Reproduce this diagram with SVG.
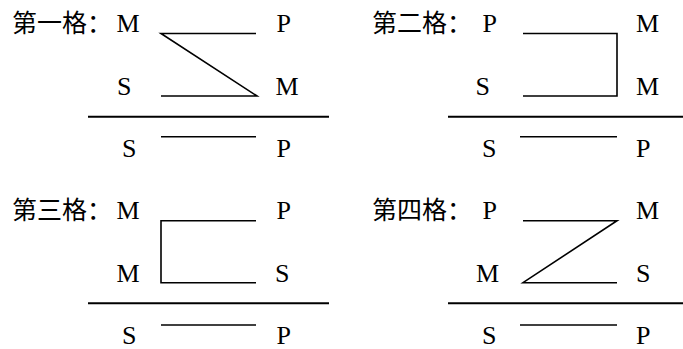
<svg xmlns="http://www.w3.org/2000/svg" width="683" height="349" viewBox="0 0 683 349">
<style>
.t{font-family:"Liberation Serif","Times New Roman",serif;font-size:26px;fill:#000}
.c{font-family:"Noto Sans CJK SC","Noto Sans CJK JP",sans-serif;font-size:25px;fill:#000}
.l{fill:none;stroke:#000;stroke-width:1.6}
.b{fill:none;stroke:#000;stroke-width:2}
</style>
<rect width="683" height="349" fill="#fff"/>
<g id="fig1">
<text class="c" x="12" y="32">第一格：</text>
<text class="t" x="116.5" y="32">M</text>
<text class="t" x="276.5" y="32">P</text>
<text class="t" x="117" y="94.5">S</text>
<text class="t" x="275.5" y="94.5">M</text>
<text class="t" x="122" y="157">S</text>
<text class="t" x="276.5" y="157">P</text>
</g>
<g id="fig2">
<text class="c" x="372" y="32">第二格：</text>
<text class="t" x="482.5" y="32">P</text>
<text class="t" x="636" y="32">M</text>
<text class="t" x="475.5" y="94.5">S</text>
<text class="t" x="636" y="94.5">M</text>
<text class="t" x="482" y="157">S</text>
<text class="t" x="636" y="157">P</text>
</g>
<g id="fig3">
<text class="c" x="12" y="218.5">第三格：</text>
<text class="t" x="116.5" y="218.5">M</text>
<text class="t" x="276.5" y="218.5">P</text>
<text class="t" x="116.5" y="281.5">M</text>
<text class="t" x="275" y="281.5">S</text>
<text class="t" x="122" y="343.5">S</text>
<text class="t" x="276.5" y="343.5">P</text>
</g>
<g id="fig4">
<text class="c" x="372" y="218.5">第四格：</text>
<text class="t" x="482.5" y="218.5">P</text>
<text class="t" x="636" y="218.5">M</text>
<text class="t" x="476" y="281.5">M</text>
<text class="t" x="636" y="281.5">S</text>
<text class="t" x="482" y="343.5">S</text>
<text class="t" x="636" y="343.5">P</text>
</g>
<g id="connectors">
<path class="l" d="M256,33.5 H161 L257,96 H161"/>
<path class="b" d="M88,116.7 H329"/>
<path class="l" d="M161,136.7 H256"/>
<path class="l" d="M523,33.5 H617 V96 H523"/>
<path class="b" d="M448,116.7 H683"/>
<path class="l" d="M520,136.7 H617"/>
<path class="l" d="M256,220.7 H161 V282.7 H256"/>
<path class="b" d="M88,303.3 H329"/>
<path class="l" d="M161,325 H256"/>
<path class="l" d="M523,220.7 H617 L523,282.7 H617"/>
<path class="b" d="M448,303.3 H683"/>
<path class="l" d="M520,325 H617"/>
</g>
</svg>
